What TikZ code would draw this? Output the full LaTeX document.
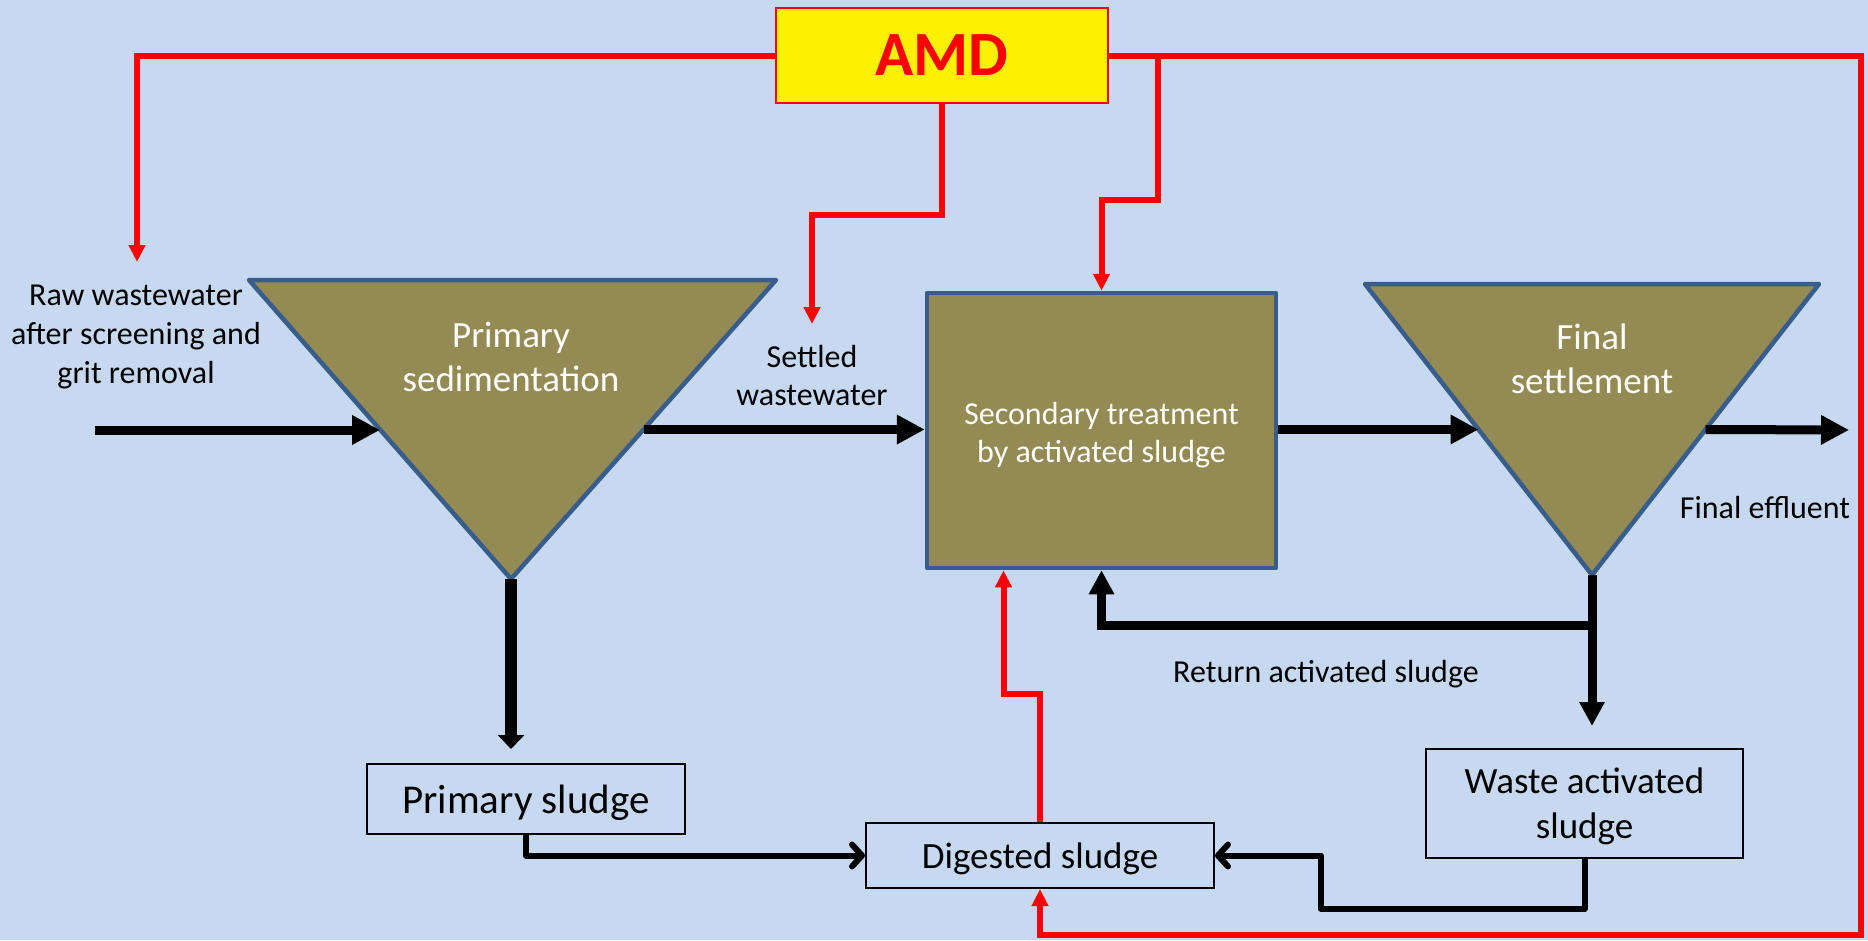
\documentclass[tikz,border=0pt]{standalone}
\usepackage{fontspec}
\setmainfont{Carlito}
\usetikzlibrary{arrows.meta,calc}

\definecolor{sky}{HTML}{C6D9F1}
\definecolor{tankfill}{HTML}{948A54}
\definecolor{tankline}{HTML}{385D8A}
\definecolor{dosered}{HTML}{FF0000}

\begin{document}
\begin{tikzpicture}[x=1bp, y=-1bp,
	tank/.style={fill=tankfill, draw=tankline, line width=4.5bp, line join=round},
	tanktext/.style={text=white, align=center, font=\fontsize{37bp}{44bp}\selectfont},
	sludgebox/.style={draw=black, line width=2bp, align=center, inner sep=0pt},
	lbl/.style={align=center, font=\fontsize{32bp}{39bp}\selectfont},
	flow/.style={line width=9bp, -{Triangle[length=28bp, width=28bp]}},
	drop/.style={line width=12bp, -{Triangle[length=14bp, width=26bp]}},
	ras/.style={line width=9bp, -{Triangle[length=24bp, width=24bp]}},
	feed/.style={line width=6bp, line join=round, -{Straight Barb[length=10bp, width=22bp, round]}},
	dose/.style={draw=dosered, line width=6bp, -{Triangle[length=17bp, width=16bp]}}]

	\fill[sky] (0,0) rectangle (1868,940);
	\useasboundingbox (0,0) rectangle (1868,940);

	\coordinate (ps-l) at (249,280);
	\coordinate (ps-r) at (776,280);
	\coordinate (ps-b) at (511,579);
	\coordinate (fs-l) at (1365,284);
	\coordinate (fs-r) at (1819,284);
	\coordinate (fs-b) at (1592,575);

	\coordinate (ps-in) at ($(ps-l)!0.5!(ps-b)$);
	\coordinate (ps-out) at ($(ps-r)!0.5!(ps-b)$);
	\coordinate (fs-in) at ($(fs-l)!0.5!(fs-b)$);
	\coordinate (fs-out) at ($(fs-r)!0.5!(fs-b)$);

	\path[tank] (ps-l) -- (ps-r) -- (ps-b) -- cycle;
	\path[tank] (fs-l) -- (fs-r) -- (fs-b) -- cycle;

	\node[tanktext] (ps) at (511,357) {Primary\\sedimentation};
	\node[tanktext] (fs) at (1592,359) {Final\\settlement};
	\node[tank, minimum width=349bp, minimum height=275bp, inner sep=0pt] (st) at (1101.5,430.5) {};
	\node[text=white, align=center, font=\fontsize{32bp}{38bp}\selectfont] (st-text) at ([yshift=-4.5bp]st.center) {Secondary treatment\\by activated sludge};

	\node[fill=yellow, draw=dosered, line width=2bp, minimum width=332bp, minimum height=95bp,
		font=\fontsize{63bp}{70bp}\selectfont\bfseries, text=dosered] (amd) at (942,55.5) {AMD};

	\node[sludgebox, minimum width=318bp, minimum height=70bp] (psl) at (526,799) {};
	\node[font=\fontsize{41bp}{48bp}\selectfont] (psl-text) at ([yshift=-3.5bp]psl.center) {Primary sludge};
	\node[sludgebox, minimum width=348bp, minimum height=65bp] (dig) at (1040,855.5) {};
	\node[font=\fontsize{37bp}{44bp}\selectfont] (dig-text) at ([yshift=-3.5bp]dig.center) {Digested sludge};
	\node[sludgebox, minimum width=317bp, minimum height=109bp] (was) at (1584.5,803.5) {};
	\node[align=center, font=\fontsize{37bp}{45bp}\selectfont] (was-text) at ([yshift=-2.5bp]was.center) {Waste activated\\sludge};

	\node[lbl] (raw) at (136,337) {Raw wastewater\\after screening and\\grit removal};
	\node[lbl, font=\fontsize{32bp}{38bp}\selectfont] (settled) at (812,375.5) {Settled\\wastewater};
	\node[lbl] (eff) at (1765,507.5) {Final effluent};
	\node[lbl] (rasl) at (1326,674.5) {Return activated sludge};

	\coordinate (raw-in) at (95,430);
	\coordinate (out) at (1849,430);
	\coordinate (split) at ($(fs-b)+(0,50)$);
	\coordinate (raw-amd) at (137,262);
	\coordinate (settled-amd) at (812,324);
	\coordinate (tap) at ($(amd.east)+(49,0)$);
	\coordinate (ring) at (1861,935);

	\draw[flow] (raw-in) -- (raw-in -| ps-in);
	\draw[flow] (ps-out) -- (ps-out -| st.west);
	\draw[flow] (st.east |- fs-in) -- (fs-in);
	\draw[flow] (fs-out) -- (out);

	\draw[drop] (ps-b) -- ([yshift=14bp]psl.north -| ps-b);
	\draw[ras] (fs-b) -- ([yshift=22bp]was.north -| fs-b);
	\draw[ras] (split) -| (st.south);

	\draw[feed] (psl.south) |- (dig.west);
	\draw[feed] (was.south) -- ++(0,50) -| ($(dig.east)+(106,0)$) -- (dig.east);

	\draw[dose] (amd.west) -| (raw-amd);
	\draw[dose] (amd.south) -- ++(0,111) -| (settled-amd);
	\draw[dose] (tap) -- ++(0,144) -| (st.north);
	\draw[dose] (amd.east) -| (ring) -| (dig.south);
	\draw[dose] (dig.north) -- ++(0,-128) -| ($(st.south)+(-98,0)$);

\end{tikzpicture}
\end{document}
